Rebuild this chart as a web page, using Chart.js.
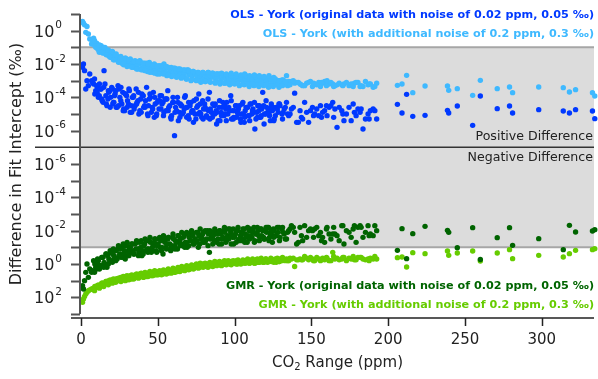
<!DOCTYPE html>
<html>
<head>
<meta charset="utf-8">
<script src="https://cdn.jsdelivr.net/npm/chart.js@4.4.0/dist/chart.umd.min.js"></script>
<style>
html, body { margin: 0; padding: 0; background: #fff; }
#wrap { width: 598px; height: 379px; }
</style>
</head>
<body>
<div id="wrap"><canvas id="myChart"></canvas></div>
<script>
// CO2 range (ppm) of each test data set, shared by all four series
const co2Range = [
  1.0, 1.6, 2.3, 3.1, 3.9, 4.8, 5.7, 6.9, 8.2, 9.6, 10.8, 11.9,
  13.1, 13.8, 15.0, 16.2, 16.9, 18.1, 19.3, 20.0, 21.4, 22.2,
  23.5, 24.1, 25.3, 26.6, 27.2, 28.4, 29.7, 30.3, 31.5, 32.8,
  33.4, 34.6, 35.9, 36.5, 37.7, 38.9, 39.6, 40.8, 42.0, 42.7,
  43.9, 45.2, 45.8, 47.1, 48.3, 49.0, 50.2, 51.5, 52.1, 53.4,
  54.6, 55.3, 56.5, 57.8, 58.4, 59.7, 60.9, 61.6, 62.8, 64.1,
  64.7, 66.0, 67.2, 67.9, 69.1, 70.4, 71.0, 72.3, 73.5, 74.2,
  75.4, 76.7, 77.3, 78.6, 79.8, 80.5, 81.7, 83.0, 83.6, 84.9,
  86.1, 86.8, 88.0, 89.3, 89.9, 91.2, 92.4, 93.1, 94.3, 95.6,
  96.2, 97.5, 98.7, 99.4, 100.6, 101.9, 102.5, 103.8, 105.0, 105.7,
  106.9, 108.2, 108.8, 110.1, 111.3, 112.0, 113.2, 114.5, 115.1, 116.4,
  117.6, 118.3, 119.5, 120.8, 121.4, 122.7, 123.9, 124.6, 125.8, 127.1,
  128.4, 129.6, 130.9, 132.3, 133.8, 135.2,
  137.0, 139.1, 140.4, 142.6, 144.3, 146.9, 148.2, 150.7, 152.1, 154.8,
  157.3, 158.6, 161.5, 163.9, 166.7, 169.8, 171.2, 174.5, 178.0, 180.3,
  183.6, 186.9, 188.4, 190.2, 192.5,
  206, 209, 212, 216, 224, 238.6, 239.4, 245, 255, 260,
  271, 279, 281, 298, 314, 318, 322, 333, 334.5,
  7.5, 9.0, 10.2, 11.3, 12.6, 14.4, 15.6, 17.5, 18.7, 20.7,
  21.8, 22.9, 24.7, 25.9, 27.8, 29.0, 30.9, 32.1, 34.0, 35.2,
  37.1, 38.3, 40.2, 41.4, 43.3, 44.5, 46.4, 47.7, 49.6, 50.8,
  52.7, 54.0, 55.9, 57.1, 59.0, 60.3, 62.2, 63.4, 65.3, 66.6,
  68.5, 69.8, 71.6, 72.9, 74.8, 76.0, 78.0, 79.2, 81.1, 82.3,
  84.2, 85.5, 87.4, 88.6, 90.5, 91.8, 93.7, 94.9, 96.8, 98.0,
  100.0, 101.2, 103.1, 104.4, 106.3, 107.5, 109.5, 110.7, 112.6, 113.9,
  115.8, 117.0, 118.9, 120.2, 122.1, 123.3, 125.2, 126.5, 128.9, 131.6,
  134.5, 138.2, 143.5, 149.4, 155.9, 160.2, 165.3, 172.8, 181.7, 185.2,
  8.8, 10.5, 12.0, 13.5, 14.8, 16.5, 17.8, 19.0, 20.4, 21.1,
  22.6, 24.4, 26.0, 27.5, 28.8, 30.0, 31.2, 33.0, 34.3, 36.2,
  37.4, 39.2, 40.5, 41.7, 43.6, 44.9, 46.7, 48.0, 49.3, 51.2,
  52.4, 53.7, 55.6, 56.8, 58.7, 59.9, 61.2, 63.1, 64.4, 65.6,
  67.5, 68.8, 70.1, 72.0, 73.2, 75.1, 76.4, 77.6, 79.5, 80.8,
  82.7, 83.9, 85.8, 87.1, 88.3, 90.2, 91.5, 93.4, 94.6, 95.9,
  97.8, 99.1, 101.0, 102.2, 104.1, 105.4, 106.6, 108.5, 109.8, 111.7,
  112.9, 114.8, 116.1, 117.3, 119.2, 120.5, 122.4, 123.6, 125.5, 127.8,
  129.2, 131.2, 133.0, 136.1, 141.5, 145.6, 151.4, 153.5, 156.6, 159.8,
  162.7, 164.5, 168.1, 170.5, 175.9, 177.2, 179.1, 182.4, 187.6, 191.3
];

// log10 of |difference in fit intercept| (per mil)
// OLS - York: positive differences
const olsOrigLog = [
  -2.2, -2.0, -2.4, -3.5, -3.0, -3.3, -2.6, -3.0, -3.2, -3.6, -3.4, -3.9,
  -3.5, -4.2, -2.4, -3.9, -4.5, -3.7, -4.0, -3.4, -4.3, -3.8,
  -4.6, -3.3, -4.0, -4.4, -3.7, -4.8, -3.9, -4.2, -3.6, -4.5,
  -4.0, -4.7, -3.5, -4.3, -5.0, -4.1, -3.8, -4.6, -4.2, -3.4,
  -4.5, -4.0, -4.9, -3.7, -4.4, -5.1, -4.2, -3.9, -4.7, -4.3,
  -4.1, -4.8, -3.6, -4.5, -5.2, -4.3, -6.3, -4.6, -4.0, -4.9,
  -4.4, -5.0, -4.7, -3.9, -4.6, -5.3, -4.5, -4.8, -4.2, -5.0,
  -4.6, -3.8, -4.9, -5.2, -4.7, -4.4, -5.1, -4.8, -3.7, -4.9,
  -5.0, -4.5, -4.8, -5.4, -4.6, -4.9, -4.3, -5.1, -4.7, -5.0,
  -4.6, -3.9, -4.8, -5.2, -4.5, -4.9, -4.7, -5.3, -4.4, -5.0,
  -4.8, -4.6, -5.1, -4.4, -5.0, -4.7, -5.9, -4.9, -4.5, -5.2,
  -4.7, -3.7, -5.0, -4.6, -4.9, -5.1, -4.4, -4.8, -5.3, -4.6,
  -4.9, -4.5, -5.0, -4.7, -4.3, -5.1,
  -4.7, -3.75, -5.5, -4.8, -5.3, -4.9, -5.5, -4.6, -5.0, -5.1,
  -4.9, -4.8, -4.6, -4.3, -5.8, -4.8, -5.4, -4.6, -4.9, -4.7,
  -5.9, -5.0, -4.8, -4.7, -5.3,
  -4.42, -4.94, -3.82, -5.14, -5.08, -4.78, -4.94, -4.52, -5.68, -3.92,
  -4.68, -4.52, -4.94, -4.74, -4.82, -4.94, -4.74, -4.82, -5.28,
  -3.1, -3.8, -3.3, -4.0, -3.5, -4.3, -3.2, -4.1, -3.6, -4.4,
  -3.9, -4.6, -3.5, -4.2, -4.7, -3.8, -4.4, -4.9, -4.0, -4.5,
  -4.2, -4.8, -3.9, -4.5, -5.0, -4.1, -4.6, -5.2, -4.3, -4.7,
  -4.4, -4.9, -4.1, -4.6, -5.1, -4.3, -4.8, -5.4, -4.5, -4.9,
  -4.6, -5.1, -4.3, -4.8, -5.3, -4.5, -5.0, -4.2, -4.7, -5.2,
  -4.7, -5.2, -4.4, -4.9, -5.4, -4.6, -5.0, -4.3, -4.8, -5.3,
  -4.8, -5.2, -4.5, -5.0, -5.5, -4.6, -5.1, -4.4, -4.9, -5.3,
  -4.8, -5.2, -4.5, -5.0, -4.7, -5.4, -4.6, -5.1, -4.4, -4.9,
  -5.0, -4.6, -5.2, -4.8, -4.5, -5.1, -4.7, -5.0, -4.9, -5.3,
  -2.9, -3.7, -3.2, -4.1, -3.4, -4.4, -3.6, -4.6, -3.5, -4.3,
  -3.6, -4.5, -3.4, -4.8, -3.8, -4.6, -3.5, -4.9, -3.9, -4.4,
  -3.7, -4.9, -3.9, -4.6, -5.1, -3.8, -4.7, -4.0, -5.0, -4.2,
  -3.9, -5.1, -4.1, -4.8, -5.3, -4.0, -4.9, -4.3, -5.2, -4.5,
  -4.0, -5.2, -4.3, -4.9, -5.5, -4.1, -5.0, -4.4, -5.3, -4.6,
  -4.1, -5.3, -4.4, -5.0, -5.6, -4.2, -5.1, -4.5, -5.4, -4.7,
  -4.2, -5.3, -4.5, -5.0, -5.5, -4.3, -5.2, -4.6, -5.4, -4.8,
  -4.3, -5.2, -4.5, -5.1, -5.6, -4.2, -5.0, -4.6, -5.4, -4.7,
  -4.4, -5.3, -4.6, -5.0, -5.5, -4.3, -5.1, -4.7, -5.2, -4.5,
  -4.5, -5.2, -4.6, -5.0, -5.4, -4.4, -5.1, -4.7, -5.3, -4.8
];
const olsNoisyLog = [
  0.55, 0.45, 0.35, -0.1, 0.25, -0.2, -0.5, -0.8, -0.45, -1.0, -0.95, -1.3,
  -0.9, -1.2, -1.05, -1.4, -1.2, -1.5, -1.3, -1.6, -1.45, -1.7,
  -1.55, -1.8, -1.65, -1.95, -1.7, -1.85, -2.0, -1.75, -1.9, -2.05,
  -1.85, -2.1, -1.95, -2.2, -2.0, -1.9, -2.25, -2.05, -2.15, -1.95,
  -2.2, -2.05, -2.35, -2.15, -2.3, -2.1, -2.4, -2.25, -2.15, -2.45,
  -2.3, -2.5, -2.2, -2.45, -2.35, -2.6, -2.4, -2.3, -2.55, -2.45,
  -2.6, -2.4, -2.7, -2.5, -2.35, -2.65, -2.55, -2.75, -2.5, -2.6,
  -2.7, -2.55, -2.8, -2.65, -2.9, -2.6, -2.75, -2.5, -2.85, -2.7,
  -2.8, -2.65, -2.9, -2.75, -2.6, -2.95, -2.8, -2.7, -2.9, -2.75,
  -2.85, -3.0, -2.7, -2.9, -2.8, -3.05, -2.85, -2.95, -2.75, -3.0,
  -2.9, -2.8, -3.1, -2.95, -2.85, -3.0, -2.75, -3.05, -2.9, -3.15,
  -2.95, -3.1, -2.85, -3.05, -3.2, -2.9, -3.0, -3.15, -2.95, -3.1,
  -3.0, -3.2, -2.95, -3.1, -2.7, -3.05,
  -3.05, -3.15, -3.1, -3.2, -3.3, -3.15, -3.1, -3.35, -3.2, -3.1,
  -3.15, -3.05, -3.2, -3.2, -3.25, -3.25, -3.2, -3.3, -3.15, -3.1,
  -3.35, -3.25, -3.2, -3.4, -3.15,
  -3.28, -3.2, -2.68, -3.72, -3.32, -3.32, -3.58, -3.48, -3.88, -2.98,
  -3.48, -3.38, -3.72, -3.38, -3.42, -3.68, -3.54, -3.72, -3.92,
  -0.65, -0.9, -0.75, -1.15, -0.95, -1.35, -1.0, -1.25, -1.55, -1.3,
  -1.75, -1.4, -1.85, -1.55, -2.05, -1.65, -2.1, -1.7, -2.2, -1.8,
  -2.3, -1.8, -2.35, -1.95, -2.45, -1.9, -2.5, -2.0, -2.6, -2.1,
  -2.55, -2.0, -2.7, -2.2, -2.75, -2.25, -2.8, -2.3, -2.85, -2.35,
  -2.9, -2.35, -3.0, -2.45, -2.95, -2.5, -3.1, -2.5, -3.05, -2.55,
  -3.1, -2.55, -3.15, -2.6, -3.2, -2.6, -3.15, -2.65, -3.25, -2.7,
  -3.2, -2.7, -3.3, -2.75, -3.25, -2.7, -3.35, -2.8, -3.3, -2.75,
  -3.35, -2.8, -3.3, -2.85, -3.4, -2.85, -3.35, -2.9, -3.4, -2.95,
  -3.3, -3.0, -3.25, -3.05, -3.35, -3.0, -3.3, -3.1, -3.35, -3.05,
  -0.6, -1.05, -0.85, -1.3, -1.0, -1.45, -1.15, -1.6, -1.25, -1.75,
  -1.45, -1.9, -1.6, -2.0, -1.65, -2.15, -1.75, -2.2, -1.85, -2.3,
  -1.85, -2.35, -1.95, -2.4, -2.0, -2.5, -2.1, -2.55, -2.15, -2.6,
  -2.1, -2.6, -2.15, -2.65, -2.2, -2.7, -2.25, -2.75, -2.3, -2.8,
  -2.35, -2.9, -2.4, -2.95, -2.45, -3.0, -2.5, -3.0, -2.5, -3.05,
  -2.5, -3.05, -2.55, -3.1, -2.6, -3.1, -2.55, -3.15, -2.6, -3.15,
  -2.55, -3.15, -2.6, -3.15, -2.65, -3.2, -2.6, -3.2, -2.7, -3.2,
  -2.65, -3.25, -2.7, -3.2, -2.75, -3.25, -2.7, -3.3, -2.8, -3.25,
  -3.0, -3.3, -3.05, -3.25, -3.1, -3.3, -3.15, -3.25, -3.1, -3.3,
  -3.1, -3.35, -3.15, -3.3, -3.2, -3.35, -3.1, -3.3, -3.2, -3.35
];
// GMR - York: negative differences
const gmrOrigLog = [
  1.3, 1.5, 1.0, 0.5, 0.0, 0.8, 0.3, 0.5, -0.2, 0.2, -0.3, 0.1,
  0.1, -0.4, -0.1, -0.6, 0.2, -0.3, -0.7, -0.2, -0.5, -0.8,
  -0.3, -0.9, -0.6, -1.0, -0.4, -0.8, -1.1, -0.5, -0.9, -0.7,
  -1.2, -0.6, -0.9, -1.3, -0.7, -1.0, -0.5, -1.1, -0.8, -1.4,
  -0.9, -1.3, -0.7, -1.1, -1.5, -0.8, -1.2, -1.0, -1.4, -0.6,
  -1.3, -1.0, -1.5, -1.2, -0.8, -1.6, -1.1, -1.4, -0.9, -1.3,
  -1.5, -1.1, -1.7, -1.3, -1.0, -1.6, -1.4, -1.8, -1.2, -1.5,
  -1.4, -1.7, -1.2, -1.6, -1.9, -1.3, -1.5, -1.8, -0.7, -1.6,
  -1.7, -1.4, -1.9, -1.5, -1.2, -1.8, -1.6, -2.0, -1.3, -1.7,
  -1.5, -1.9, -1.6, -1.2, -1.8, -2.0, -1.4, -1.7, -1.9, -1.5,
  -1.8, -1.3, -1.7, -2.1, -1.6, -1.9, -1.4, -1.8, -2.0, -1.6,
  -1.7, -2.0, -1.5, -1.9, -2.2, -1.6, -1.8, -1.3, -2.0, -1.7,
  -1.9, -1.6, -2.1, -1.8, -1.5, -2.0,
  -2.3, -1.9, -1.2, -2.2, -1.4, -1.6, -2.0, -2.0, -2.1, -1.7,
  -1.6, -1.3, -1.8, -1.8, -1.7, -2.3, -1.2, -1.9, -2.3, -2.2,
  -1.6, -2.3, -1.8, -1.7, -2.0,
  -0.82, -2.12, -0.32, -1.82, -2.26, -2.02, -1.9, -0.98, -2.18, -0.27,
  -1.58, -2.18, -1.12, -1.52, -0.86, -2.32, -1.92, -1.98, -2.06,
  0.4, 0.0, 0.3, -0.2, 0.1, -0.4, 0.0, -0.5, -0.2, -0.6,
  -0.4, -0.8, -0.5, -0.9, -0.6, -1.1, -0.7, -1.0, -0.8, -1.2,
  -0.9, -1.3, -0.8, -1.2, -0.9, -1.4, -1.0, -1.3, -1.1, -1.5,
  -1.0, -1.5, -1.2, -1.6, -1.1, -1.5, -1.3, -1.7, -1.2, -1.6,
  -1.3, -1.8, -1.4, -1.7, -1.3, -1.9, -1.5, -1.8, -1.4, -2.0,
  -1.5, -1.9, -1.4, -1.8, -2.0, -1.5, -1.9, -1.6, -2.1, -1.7,
  -1.6, -2.0, -1.5, -1.9, -2.1, -1.6, -2.0, -1.7, -2.2, -1.8,
  -1.7, -2.1, -1.6, -2.0, -2.2, -1.8, -2.1, -1.7, -2.2, -1.9,
  -1.9, -2.2, -1.7, -2.1, -1.9, -2.2, -1.8, -2.0, -2.3, -1.9,
  0.5, -0.1, 0.3, -0.4, 0.2, -0.6, 0.0, -0.8, -0.1, -0.9,
  -0.2, -1.1, -0.4, -1.2, -0.3, -1.3, -0.5, -1.2, -0.6, -1.4,
  -0.5, -1.4, -0.6, -1.5, -0.7, -1.6, -0.8, -1.5, -0.7, -1.6,
  -0.8, -1.7, -0.9, -1.6, -1.0, -1.8, -0.9, -1.7, -1.1, -1.9,
  -1.0, -1.9, -1.1, -2.0, -1.2, -1.9, -1.0, -2.1, -1.3, -2.0,
  -1.1, -2.0, -1.2, -2.1, -1.3, -2.0, -1.2, -2.2, -1.4, -2.1,
  -1.2, -2.1, -1.3, -2.2, -1.4, -2.1, -1.3, -2.2, -1.5, -2.0,
  -1.3, -2.2, -1.4, -2.1, -1.5, -2.2, -1.4, -2.0, -1.6, -2.2,
  -1.4, -2.2, -1.5, -2.1, -1.3, -2.3, -1.6, -2.2, -1.4, -2.1,
  -1.5, -2.2, -1.4, -2.3, -1.6, -2.1, -1.3, -2.2, -1.7, -2.3
];
const gmrNoisyLog = [
  2.3, 2.1, 1.95, 1.8, 1.7, 1.6, 1.55, 1.5, 1.45, 1.4, 1.35, 1.3,
  1.25, 1.15, 1.2, 1.05, 1.15, 1.0, 1.1, 1.0, 0.95, 1.05,
  0.9, 1.0, 0.85, 0.95, 0.9, 0.8, 0.95, 0.85, 0.8, 0.9,
  0.75, 0.85, 0.8, 0.7, 0.8, 0.75, 0.7, 0.8, 0.65, 0.75,
  0.7, 0.6, 0.7, 0.6, 0.65, 0.55, 0.65, 0.6, 0.5, 0.6,
  0.55, 0.45, 0.55, 0.45, 0.5, 0.4, 0.5, 0.4, 0.45, 0.35,
  0.4, 0.3, 0.35, 0.25, 0.3, 0.2, 0.3, 0.2, 0.25, 0.15,
  0.2, 0.1, 0.2, 0.1, 0.15, 0.05, 0.15, 0.05, 0.1, 0.0,
  0.05, 0.0, 0.05, -0.05, 0.05, -0.05, 0.0, -0.1, 0.0, -0.05,
  -0.05, 0.0, -0.1, -0.05, -0.1, 0.0, -0.15, -0.05, -0.1, -0.15,
  -0.05, -0.15, -0.1, -0.2, -0.1, -0.15, -0.05, -0.2, -0.1, -0.15,
  -0.2, -0.1, -0.15, -0.25, -0.1, -0.2, -0.15, -0.25, -0.2, -0.1,
  -0.2, -0.3, -0.2, -0.25, -0.3, -0.2,
  -0.3, 0.15, -0.25, -0.3, -0.25, -0.35, -0.25, -0.3, -0.2, -0.3,
  -0.35, -0.25, -0.2, -0.7, -0.35, -0.3, -0.4, -0.35, -0.25, -0.4,
  -0.3, -0.3, -0.35, -0.3, -0.3,
  -0.38, -0.42, 0.18, -0.68, -0.62, -0.78, -0.52, -0.66, -0.78, -0.18,
  -0.66, -0.86, -0.32, -0.52, -0.42, -0.62, -0.82, -0.86, -0.92,
  1.5, 1.35, 1.4, 1.25, 1.3, 1.15, 1.2, 1.05, 1.1, 0.95,
  1.0, 0.9, 0.95, 0.8, 0.9, 0.75, 0.85, 0.7, 0.8, 0.65,
  0.75, 0.6, 0.7, 0.55, 0.65, 0.5, 0.6, 0.45, 0.55, 0.45,
  0.5, 0.4, 0.45, 0.35, 0.45, 0.3, 0.4, 0.25, 0.35, 0.2,
  0.3, 0.15, 0.25, 0.1, 0.2, 0.05, 0.15, 0.0, 0.1, 0.0,
  0.1, -0.05, 0.05, -0.1, 0.05, -0.1, 0.0, -0.15, 0.0, -0.15,
  -0.05, -0.2, -0.05, -0.15, -0.1, -0.2, -0.05, -0.2, -0.1, -0.25,
  -0.1, -0.25, -0.15, -0.3, -0.15, -0.25, -0.2, -0.3, -0.15, -0.3,
  -0.2, -0.35, -0.25, -0.4, -0.2, -0.35, -0.3, -0.2, -0.4, -0.25,
  1.6, 1.3, 1.45, 1.15, 1.35, 1.05, 1.25, 0.95, 1.15, 0.9,
  1.1, 0.85, 1.05, 0.75, 1.0, 0.7, 0.95, 0.65, 0.9, 0.6,
  0.85, 0.55, 0.8, 0.5, 0.75, 0.45, 0.7, 0.4, 0.65, 0.4,
  0.65, 0.35, 0.6, 0.3, 0.55, 0.25, 0.5, 0.2, 0.45, 0.15,
  0.4, 0.1, 0.35, 0.05, 0.3, 0.0, 0.25, -0.05, 0.2, -0.05,
  0.2, -0.1, 0.15, -0.15, 0.1, -0.15, 0.1, -0.2, 0.05, -0.2,
  0.05, -0.2, 0.0, -0.25, 0.0, -0.25, -0.05, -0.3, -0.05, -0.3,
  -0.05, -0.3, -0.1, -0.35, -0.1, -0.3, -0.15, -0.35, -0.1, -0.35,
  -0.15, -0.4, -0.2, -0.35, -0.25, -0.45, -0.2, -0.4, -0.25, -0.4,
  -0.2, -0.45, -0.25, -0.4, -0.3, -0.45, -0.25, -0.4, -0.2, -0.45
];

const xTicks = [0, 50, 100, 150, 200, 250, 300];
const posTickExps = [0, -2, -4, -6];      // labelled decades, upper half
const negTickExps = [-6, -4, -2, 0, 2];   // labelled decades, lower half

// 1e-7 sits on the centre line; positive values go up, negative values mirror down
const up = e => e + 7;
const down = e => -(e + 7);
function points(logs, f) {
    return co2Range.map((x, i) => ({x: x, y: f(logs[i])}));
}

const FONT = '"DejaVu Sans", sans-serif';

function pow10(ctx, exp, x, y) {
    ctx.font = '16px ' + FONT;
    ctx.textAlign = 'left';
    ctx.textBaseline = 'middle';
    ctx.fillText('10', x, y);
    const w = ctx.measureText('10').width;
    ctx.font = '10.5px ' + FONT;
    ctx.fillText(String(exp), x + w + 1, y - 7);
}

const decor = {
    id: 'decor',
    beforeDatasetsDraw(chart) {
        const {ctx, chartArea: a, scales: {y}} = chart;
        const yTop = y.getPixelForValue(up(-1));
        const yBot = y.getPixelForValue(down(-1));
        ctx.save();
        ctx.fillStyle = '#dcdcdc';
        ctx.fillRect(a.left, yTop, a.right - a.left, yBot - yTop);
        ctx.strokeStyle = '#a6a6a6';
        ctx.lineWidth = 2;
        ctx.beginPath();
        ctx.moveTo(a.left, yTop); ctx.lineTo(a.right, yTop);
        ctx.moveTo(a.left, yBot); ctx.lineTo(a.right, yBot);
        ctx.stroke();
        ctx.restore();
    },
    afterDraw(chart) {
        const {ctx, chartArea: a, scales: {x, y}} = chart;
        ctx.save();
        const yMid = y.getPixelForValue(0);

        // centre line between positive and negative halves
        ctx.strokeStyle = '#333';
        ctx.lineWidth = 1.5;
        ctx.beginPath();
        ctx.moveTo(35, yMid); ctx.lineTo(a.right, yMid);
        ctx.stroke();

        // left axis
        ctx.strokeStyle = '#555';
        ctx.lineWidth = 2;
        ctx.beginPath();
        ctx.moveTo(80, a.top); ctx.lineTo(80, a.bottom);
        for (let v = y.min; v <= y.max; v++) {
            if (v === 0) continue;
            const py = Math.round(y.getPixelForValue(v)) + 0.5;
            ctx.moveTo(71, py); ctx.lineTo(80, py);
        }
        ctx.stroke();

        ctx.fillStyle = '#222';
        posTickExps.forEach(e => pow10(ctx, e, 34, y.getPixelForValue(up(e)) + 2));
        negTickExps.forEach(e => pow10(ctx, e, 34, y.getPixelForValue(down(e)) + 2));

        // bottom axis
        const yAx = 318;
        ctx.strokeStyle = '#222';
        ctx.lineWidth = 1.5;
        ctx.beginPath();
        ctx.moveTo(71, yAx); ctx.lineTo(a.right, yAx);
        xTicks.forEach(t => {
            const px = Math.round(x.getPixelForValue(t)) + 0.5;
            ctx.moveTo(px, yAx); ctx.lineTo(px, yAx + 8);
        });
        ctx.stroke();
        ctx.font = '15px ' + FONT;
        ctx.textAlign = 'center';
        ctx.textBaseline = 'middle';
        xTicks.forEach(t => ctx.fillText(String(t), x.getPixelForValue(t), 340));

        // x title with subscript
        const cx = (a.left + a.right) / 2;
        const s1 = 'CO', s2 = '2', s3 = ' Range (ppm)';
        ctx.font = '15px ' + FONT;
        const w1 = ctx.measureText(s1).width, w3 = ctx.measureText(s3).width;
        ctx.font = '10px ' + FONT;
        const w2 = ctx.measureText(s2).width;
        let sx = cx - (w1 + w2 + w3) / 2;
        ctx.textAlign = 'left';
        ctx.font = '15px ' + FONT;
        ctx.fillText(s1, sx, 363);
        ctx.font = '10px ' + FONT;
        ctx.fillText(s2, sx + w1, 367);
        ctx.font = '15px ' + FONT;
        ctx.fillText(s3, sx + w1 + w2, 363);

        // y title
        ctx.save();
        ctx.translate(17, (a.top + a.bottom) / 2);
        ctx.rotate(-Math.PI / 2);
        ctx.textAlign = 'center';
        ctx.font = '16px ' + FONT;
        ctx.fillText('Difference in Fit Intercept (‰)', 0, 0);
        ctx.restore();

        // half labels
        ctx.font = '12.6px ' + FONT;
        ctx.textAlign = 'right';
        ctx.fillStyle = '#222';
        ctx.fillText('Positive Difference', 593, 137);
        ctx.fillText('Negative Difference', 593, 158);

        // series labels
        ctx.font = 'bold 11.2px ' + FONT;
        const lx = 594;
        ctx.fillStyle = '#0039ff';
        ctx.fillText('OLS - York (original data with noise of 0.02 ppm, 0.05 ‰)', lx, 15);
        ctx.fillStyle = '#3fb9ff';
        ctx.fillText('OLS - York (with additional noise of 0.2 ppm, 0.3 ‰)', lx, 34);
        ctx.fillStyle = '#006400';
        ctx.fillText('GMR - York (original data with noise of 0.02 ppm, 0.05 ‰)', lx, 286);
        ctx.fillStyle = '#66cc00';
        ctx.fillText('GMR - York (with additional noise of 0.2 ppm, 0.3 ‰)', lx, 305);
        ctx.restore();
    }
};

const dotStyle = { pointRadius: 2.7, pointHoverRadius: 2.7, borderWidth: 0, showLine: false, clip: false };

const data = {
    datasets: [
        Object.assign({ data: points(olsNoisyLog, up), backgroundColor: '#3fb9ff', order: 1 }, dotStyle),
        Object.assign({ data: points(olsOrigLog, up), backgroundColor: '#0039ff', order: 2 }, dotStyle),
        Object.assign({ data: points(gmrOrigLog, down), backgroundColor: '#006400', order: 1 }, dotStyle),
        Object.assign({ data: points(gmrNoisyLog, down), backgroundColor: '#66cc00', order: 2 }, dotStyle)
    ]
};

const config = {
    type: 'scatter',
    data: data,
    options: {
        responsive: true,
        maintainAspectRatio: false,
        animation: false,
        events: [],
        layout: { padding: { left: 81, right: 4, top: 14, bottom: 65 } },
        plugins: {
            legend: { display: false },
            tooltip: { enabled: false }
        },
        scales: {
            x: { type: 'linear', min: 0, max: 334, display: false },
            y: { type: 'linear', min: -10, max: 8, display: false }
        }
    },
    plugins: [decor]
};

const myChart = new Chart(document.getElementById('myChart'), config);
</script>
</body>
</html>
